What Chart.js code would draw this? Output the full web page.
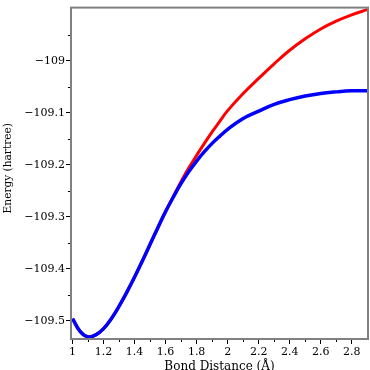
<!DOCTYPE html>
<html lang="en">
<head>
  <meta charset="UTF-8" />
  <title>Bond Distance vs Energy</title>
  <script src="https://cdn.jsdelivr.net/npm/chart.js"></script>
  <style>
    html, body { margin: 0; padding: 0; background: #fff; }
    #wrap { width: 370px; height: 370px; }
  </style>
</head>
<body>
<div id="wrap"><canvas id="chart"></canvas></div>

<script>
// bond distance (Å)
const blueX = [1.00, 1.05, 1.10, 1.15, 1.20, 1.25, 1.30, 1.35, 1.40, 1.45, 1.50, 1.55, 1.60, 1.65,
  1.70, 1.75, 1.80, 1.85, 1.90, 1.95, 2.00, 2.10, 2.20, 2.30, 2.40, 2.50, 2.60, 2.70, 2.80, 2.90];
const blueY = [-109.496, -109.521, -109.531, -109.527, -109.515, -109.496, -109.472, -109.445,
  -109.416, -109.385, -109.353, -109.321, -109.290, -109.262, -109.236, -109.213, -109.193,
  -109.175, -109.159, -109.145, -109.132, -109.111, -109.097, -109.084, -109.075, -109.068,
  -109.063, -109.060, -109.058, -109.058];

const redX = [1.00, 1.05, 1.10, 1.15, 1.20, 1.25, 1.30, 1.35, 1.40, 1.45, 1.50, 1.55, 1.60, 1.65,
  1.70, 1.75, 1.80, 1.85, 1.90, 1.95, 2.00, 2.10, 2.20, 2.30, 2.40, 2.50, 2.60, 2.70, 2.80, 2.90];
const redY = [-109.496, -109.521, -109.531, -109.527, -109.515, -109.496, -109.472, -109.445,
  -109.416, -109.385, -109.353, -109.321, -109.290, -109.261, -109.232, -109.206, -109.182,
  -109.159, -109.137, -109.116, -109.096, -109.063, -109.034, -109.006, -108.980, -108.958,
  -108.939, -108.924, -108.912, -108.902];

const xMajor = [1, 1.2, 1.4, 1.6, 1.8, 2, 2.2, 2.4, 2.6, 2.8];
const xMinor = [1.1, 1.3, 1.5, 1.7, 1.9, 2.1, 2.3, 2.5, 2.7];
const yMajor = [-109.5, -109.4, -109.3, -109.2, -109.1, -109];
const yMinor = [-109.45, -109.35, -109.25, -109.15, -109.05, -108.95];

const toPts = (xs, ys) => xs.map((x, i) => ({ x: x, y: ys[i] }));
const fmt = v => String(Math.round(v * 10) / 10).replace('-', '\u2212');

// minor ticks + grey frame around plot
const framePlugin = {
  id: 'frame',
  afterDraw(chart) {
    const { ctx, chartArea: a, scales: { x, y } } = chart;
    ctx.save();
    ctx.strokeStyle = '#000';
    ctx.lineWidth = 1;
    ctx.beginPath();
    xMinor.forEach(v => {
      const px = Math.round(x.getPixelForValue(v)) + 0.5;
      ctx.moveTo(px, a.bottom);
      ctx.lineTo(px, a.bottom + 3);
    });
    yMinor.forEach(v => {
      const py = Math.round(y.getPixelForValue(v)) + 0.5;
      ctx.moveTo(a.left, py);
      ctx.lineTo(a.left - 3, py);
    });
    ctx.stroke();
    ctx.strokeStyle = '#808080';
    ctx.lineWidth = 2;
    ctx.strokeRect(a.left, a.top, a.right - a.left, a.bottom - a.top);
    ctx.restore();
  }
};

const font = { family: 'DejaVu Serif', size: 11 };

new Chart(document.getElementById('chart'), {
  type: 'line',
  data: {
    datasets: [
      { data: toPts(blueX, blueY), borderColor: '#0000ff', borderWidth: 3.5,
        pointRadius: 0, tension: 0.4, fill: false },
      { data: toPts(redX, redY), borderColor: '#ff0000', borderWidth: 3,
        pointRadius: 0, tension: 0.4, fill: false }
    ]
  },
  options: {
    responsive: true,
    maintainAspectRatio: false,
    animation: false,
    layout: { padding: { top: 5, right: 2, left: 0, bottom: 0 } },
    plugins: { legend: { display: false }, tooltip: { enabled: false } },
    scales: {
      x: {
        type: 'linear',
        min: 0.99,
        max: 2.905,
        afterFit(s) { s.height = 31; },
        afterBuildTicks(s) { s.ticks = xMajor.map(v => ({ value: v })); },
        grid: { drawOnChartArea: false, drawTicks: true, tickLength: 5, tickColor: '#000' },
        border: { display: false },
        ticks: { color: '#000', font: font, padding: 2, maxRotation: 0, autoSkip: false,
          callback: v => fmt(v) },
        title: { display: true, text: 'Bond Distance (\u00c5)', color: '#000',
          font: { family: 'DejaVu Serif', size: 12, lineHeight: 1 },
          padding: { top: 0, bottom: -3 } }
      },
      y: {
        type: 'linear',
        min: -109.535,
        max: -108.898,
        afterFit(s) { s.width = 71; },
        afterBuildTicks(s) { s.ticks = yMajor.map(v => ({ value: v })); },
        grid: { drawOnChartArea: false, drawTicks: true, tickLength: 5, tickColor: '#000' },
        border: { display: false },
        ticks: { color: '#000', font: font, padding: 1, autoSkip: false,
          callback: v => fmt(v) },
        title: { display: true, text: '   Energy (hartree)', color: '#000',
          font: { family: 'DejaVu Serif', size: 10.6, lineHeight: 1 },
          padding: { top: 3, bottom: 0 } }
      }
    }
  },
  plugins: [framePlugin]
});
</script>
</body>
</html>
